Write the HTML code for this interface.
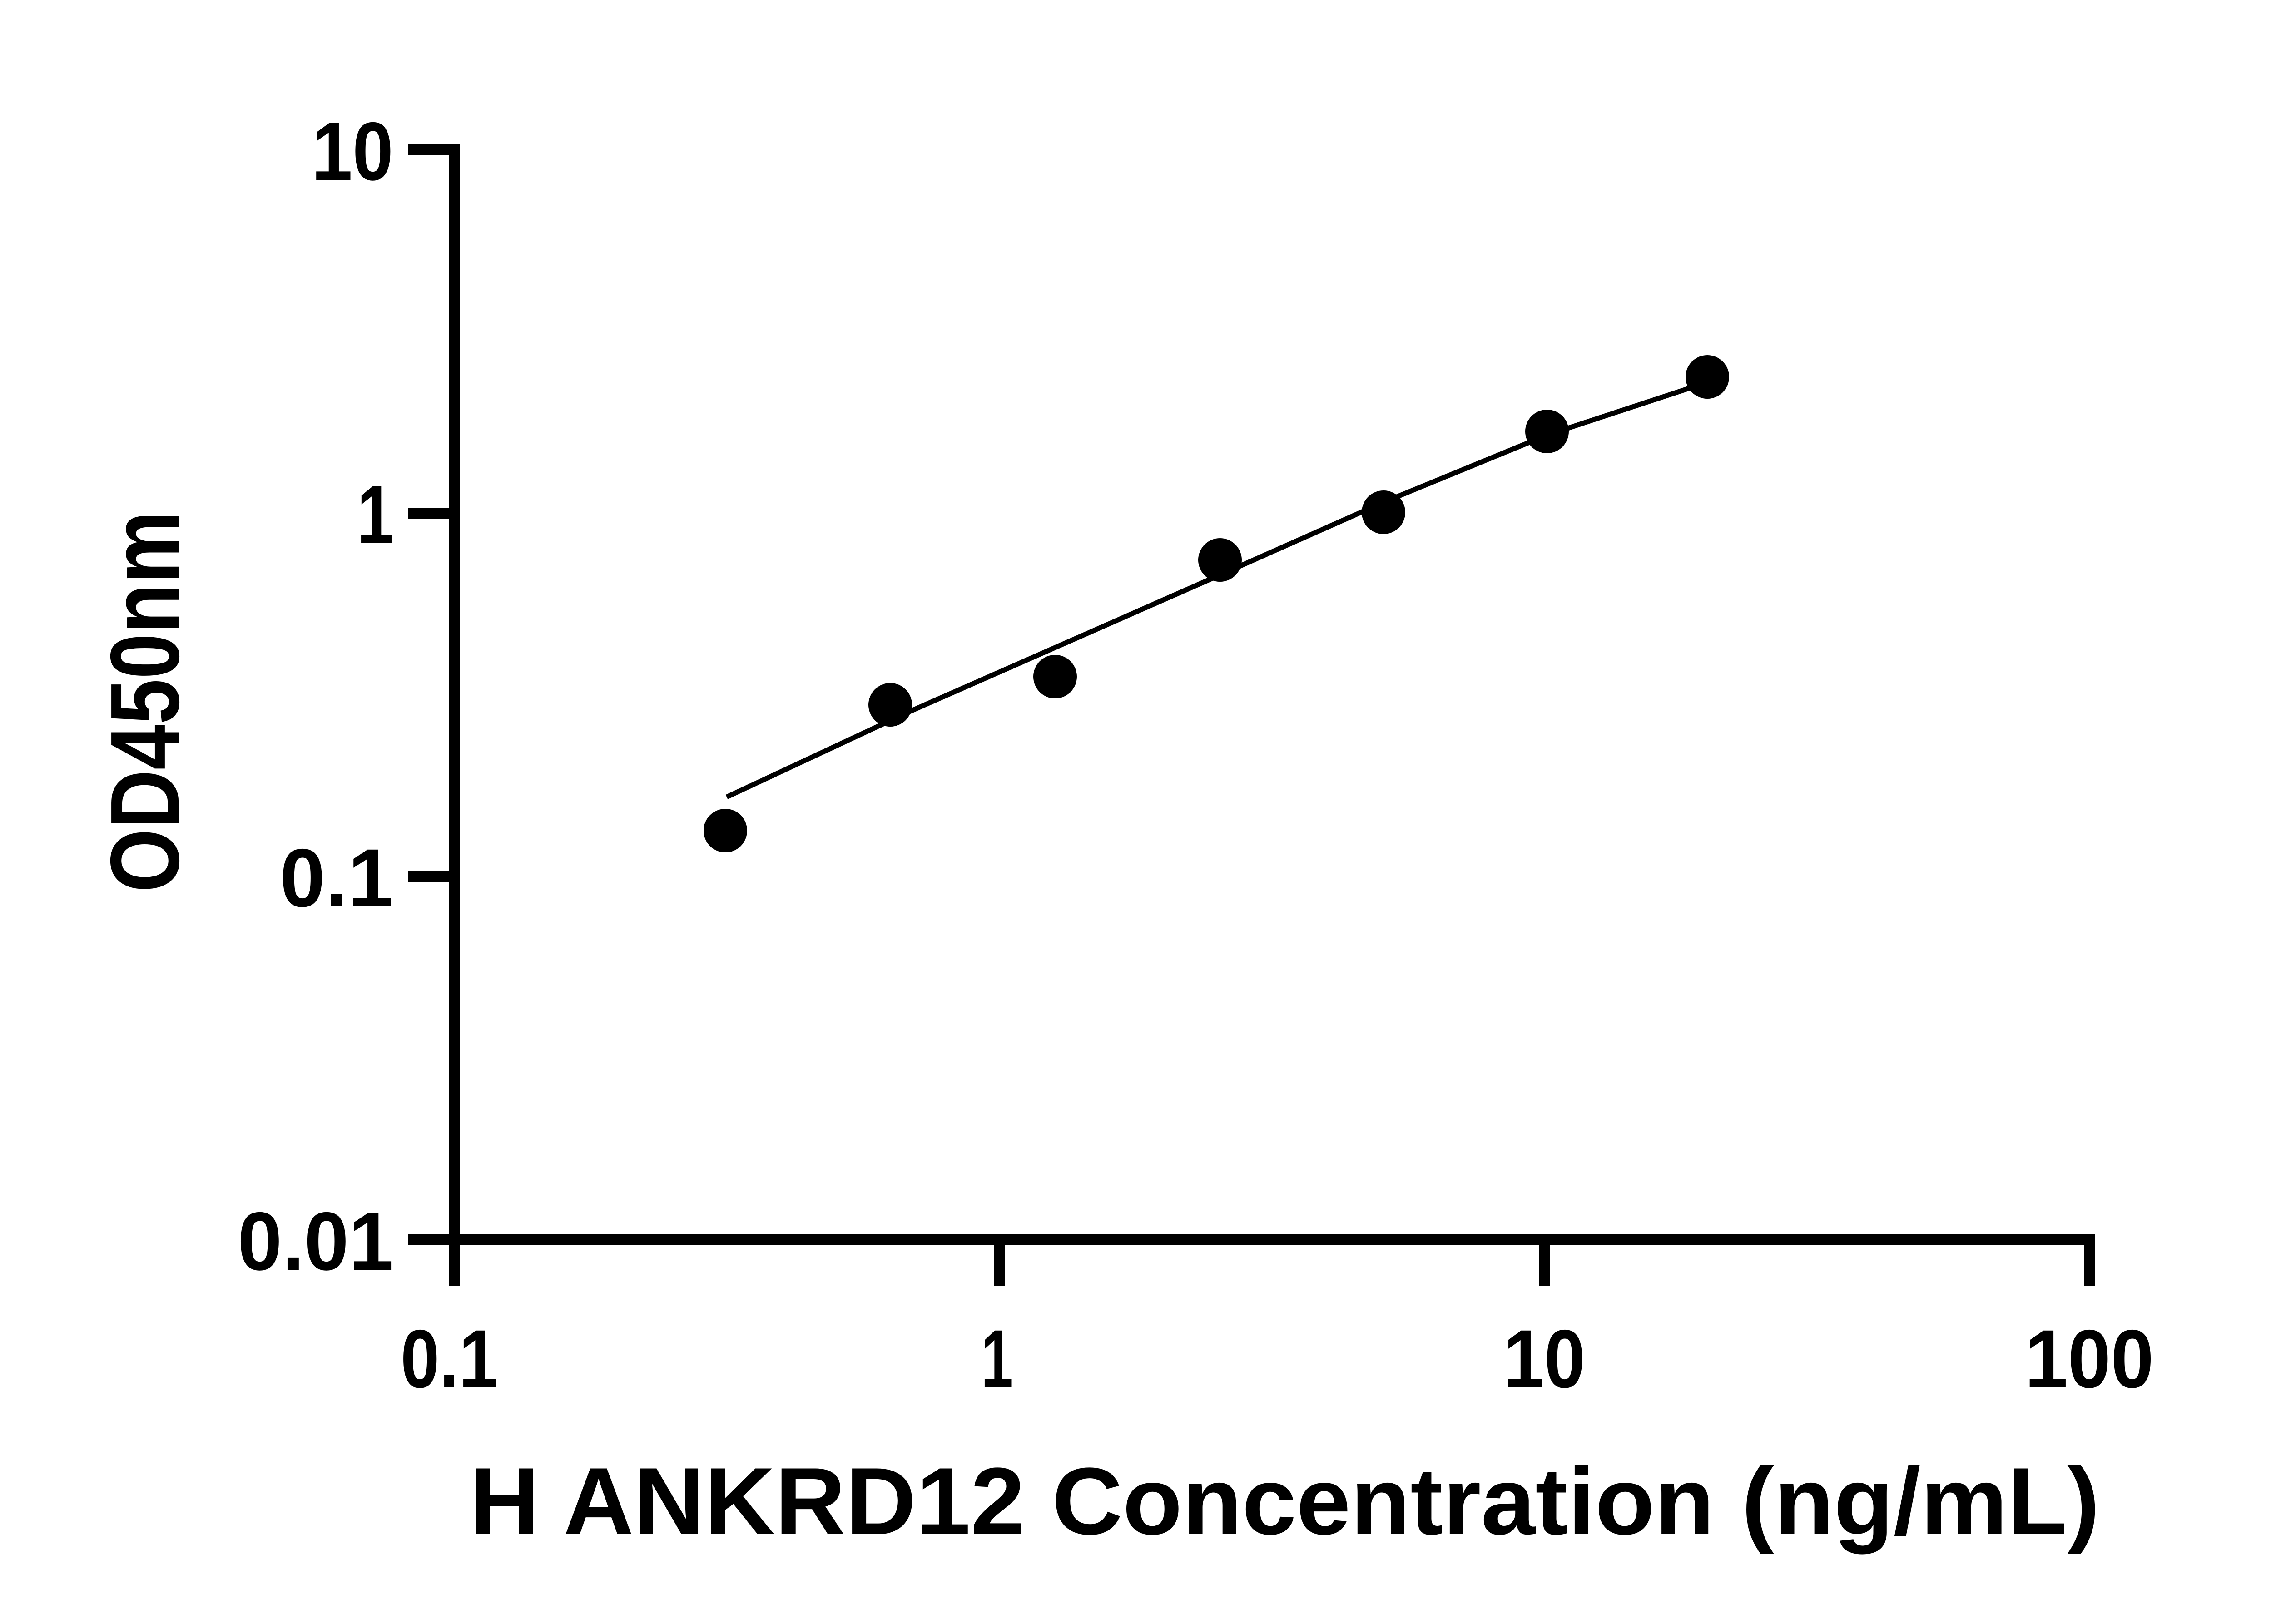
<!DOCTYPE html>
<html><head><meta charset="utf-8"><style>html,body{margin:0;padding:0;background:#fff}svg{display:block}</style></head>
<body>
<svg xmlns="http://www.w3.org/2000/svg" width="5170" height="3576" viewBox="0 0 5170 3576">
<rect width="5170" height="3576" fill="#fff"/>
<g stroke="#000" stroke-width="24" fill="none">
<line x1="1000" y1="318" x2="1000" y2="2832"/>
<line x1="988" y1="2730" x2="4612" y2="2730"/>
<line x1="898" y1="330" x2="1000" y2="330"/>
<line x1="898" y1="1130" x2="1000" y2="1130"/>
<line x1="898" y1="1930" x2="1000" y2="1930"/>
<line x1="898" y1="2730" x2="1000" y2="2730"/>
<line x1="2200" y1="2730" x2="2200" y2="2832"/>
<line x1="3400" y1="2730" x2="3400" y2="2832"/>
<line x1="4600" y1="2730" x2="4600" y2="2832"/>
</g>
<g font-family="Liberation Sans, Arial, sans-serif" font-weight="bold" font-size="182" fill="#000">
<text x="866" y="396" text-anchor="end" textLength="180" lengthAdjust="spacingAndGlyphs">10</text>
<text x="866" y="1196" text-anchor="end" textLength="80" lengthAdjust="spacingAndGlyphs">1</text>
<text x="866" y="1996" text-anchor="end" textLength="250" lengthAdjust="spacingAndGlyphs">0.1</text>
<text x="866" y="2796" text-anchor="end" textLength="343" lengthAdjust="spacingAndGlyphs">0.01</text>
<text x="989" y="3055" text-anchor="middle" textLength="214" lengthAdjust="spacingAndGlyphs">0.1</text>
<text x="2195" y="3055" text-anchor="middle" textLength="70" lengthAdjust="spacingAndGlyphs">1</text>
<text x="3400" y="3055" text-anchor="middle" textLength="180" lengthAdjust="spacingAndGlyphs">10</text>
<text x="4600" y="3055" text-anchor="middle" textLength="284" lengthAdjust="spacingAndGlyphs">100</text>
</g>
<text x="1033" y="3378" font-family="Liberation Sans, Arial, sans-serif" font-weight="bold" font-size="210" textLength="3590" lengthAdjust="spacingAndGlyphs">H ANKRD12 Concentration (ng/mL)</text>
<text transform="translate(393,1545) rotate(-90)" x="0" y="0" text-anchor="middle" font-family="Liberation Sans, Arial, sans-serif" font-weight="bold" font-size="215" textLength="840" lengthAdjust="spacingAndGlyphs">OD450nm</text>
<polyline fill="none" stroke="#000" stroke-width="11" points="1600,1755 2000,1568 2400,1392 2686,1266 3046,1106 3406,958 3740,848"/>
<g fill="#000">
<circle cx="1597" cy="1829" r="48"/>
<circle cx="1960" cy="1552" r="48"/>
<circle cx="2323" cy="1490" r="48"/>
<circle cx="2686" cy="1233" r="48"/>
<circle cx="3046" cy="1128" r="48"/>
<circle cx="3406" cy="950" r="48"/>
<circle cx="3759" cy="830" r="48"/>
</g>
</svg>
</body></html>
